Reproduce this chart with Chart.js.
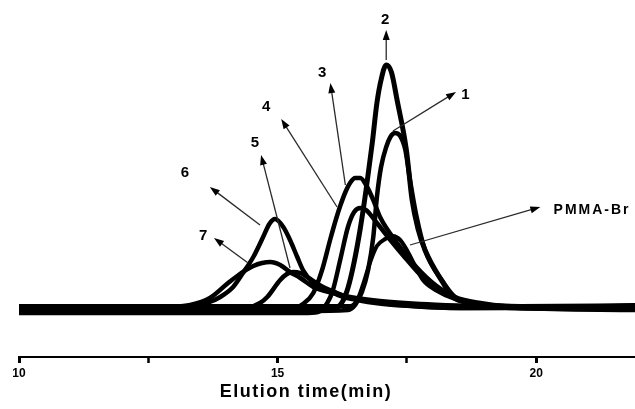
<!DOCTYPE html>
<html>
<head>
<meta charset="utf-8">
<script src="https://cdn.jsdelivr.net/npm/chart.js@4.4.0/dist/chart.umd.min.js"></script>
<style>
    html, body { margin: 0; padding: 0; background: #fff; }
    #wrap { width: 635px; height: 409px; position: relative; }
</style>
</head>
<body>
<div id="wrap"><canvas id="gpcChart"></canvas></div>
<script>
// elution time (min) and detector response
const curve1T = [10, 15.5, 16.36, 16.50, 16.63, 16.75, 16.85, 16.92, 17.00, 17.10, 17.18, 17.27, 17.37, 17.47, 17.56, 17.68, 17.85, 18.20, 18.43, 18.82, 19.50, 21.91];
const curve1Y = [-2, -2, -1, 4, 17, 39, 72, 112, 142, 162, 172, 176, 173, 159, 129, 94, 59, 27, 12, 5, 1, 0];

const curve2T = [10, 15.4, 16.11, 16.25, 16.36, 16.48, 16.60, 16.71, 16.83, 16.92, 17.00, 17.10, 17.20, 17.31, 17.49, 17.60, 17.72, 17.85, 18.20, 18.39, 18.72, 19.30, 20.46, 21.91];
const curve2Y = [1, 1, 1, 7, 21, 47, 81, 119, 166, 206, 229, 244, 237, 209, 159, 109, 79, 59, 26, 12, 6, 3, 2, 3];

const curve3T = [10, 15.0, 15.34, 15.49, 15.69, 15.86, 16.02, 16.13, 16.21, 16.32, 16.40, 16.50, 16.60, 16.71, 16.85, 16.98, 17.31, 17.70, 18.05, 18.43, 18.92, 19.69, 21.91];
const curve3Y = [0, 0, 1, 5, 16, 39, 70, 90, 103, 118, 126, 131, 131, 124, 109, 92, 66, 41, 24, 12, 6, 2, 2];

const curve4T = [10, 15.5, 15.78, 15.96, 16.07, 16.21, 16.36, 16.48, 16.60, 16.71, 16.92, 17.18, 17.47, 17.76, 18.05, 18.43, 18.92, 19.69, 21.91];
const curve4Y = [-4, -4, -3, 6, 19, 49, 82, 97, 101, 99, 86, 69, 51, 34, 21, 11, 5, 1, -1];

const curve5T = [10, 14.2, 14.37, 14.66, 14.80, 15.05, 15.18, 15.30, 15.44, 15.57, 15.88, 16.15, 16.40, 16.89, 17.56, 18.53, 21.91];
const curve5Y = [-1, -1, 0, 6, 12, 29, 35, 37, 36, 32, 22, 16, 11, 6, 3, 1, 1];

const curve6T = [10, 12.5, 12.92, 13.40, 13.64, 13.89, 14.14, 14.33, 14.53, 14.72, 14.84, 14.95, 15.11, 15.24, 15.38, 15.49, 15.69, 15.96, 16.27, 16.60, 17.37, 18.53, 21.91];
const curve6Y = [1, 1, 1, 3, 6, 12, 22, 36, 52, 72, 85, 90, 82, 69, 52, 39, 26, 19, 12, 9, 4, 1, 3];

const curve7T = [10, 12.4, 12.73, 13.31, 13.69, 14.02, 14.27, 14.53, 14.70, 14.86, 15.05, 15.24, 15.44, 15.69, 16.07, 16.40, 16.98, 17.76, 18.72, 19.88, 21.91];
const curve7Y = [-3, -3, 1, 4, 11, 25, 35, 43, 46, 47, 44, 37, 31, 22, 16, 12, 8, 5, 3, 1, 0];

const pmmaT = [10, 16.0, 16.40, 16.54, 16.65, 16.79, 16.92, 17.08, 17.23, 17.37, 17.52, 17.66, 17.81, 18.05, 18.43, 18.92, 19.69, 21.91];
const pmmaY = [3, 3, 3, 9, 24, 47, 63, 70, 73, 69, 57, 43, 29, 19, 10, 5, 3, 4];

const xTicks = [10, 15, 20];
const xTitle = "Elution time(min)";

// sample labels: text, label position, arrow tail (on trace), arrow head
const labelText = ["1", "2", "3", "4", "5", "6", "7", "PMMA-Br"];
const labelPos = [[18.63, 214], [17.08, 289], [15.86, 236], [14.78, 202], [14.56, 166], [13.21, 136], [13.56, 73], [21.08, 99]];
const arrowFrom = [[17.23, 178], [17.10, 249], [16.31, 124], [16.15, 102], [15.24, 41], [14.66, 84], [14.43, 46], [17.56, 64]];
const arrowTo = [[18.45, 217], [17.10, 279], [16.02, 226], [15.07, 190], [14.68, 154], [13.69, 122], [13.77, 71], [20.08, 102]];

function toPoints(ts, ys) {
    return ts.map((t, i) => ({ x: t, y: ys[i] }));
}

const traces = [
    [pmmaT, pmmaY, 4], [curve1T, curve1Y, 4.5], [curve2T, curve2Y, 5], [curve3T, curve3Y, 4.5],
    [curve4T, curve4Y, 4.5], [curve5T, curve5Y, 4.5], [curve6T, curve6Y, 4.5], [curve7T, curve7Y, 4.5]
];

const datasets = traces.map(tr => ({
    data: toPoints(tr[0], tr[1]),
    borderColor: "#000",
    borderWidth: tr[2],
    pointRadius: 0,
    fill: false,
    cubicInterpolationMode: "monotone"
}));

// Arrows, labels and axis title
const annotate = {
    id: "annotate",
    afterDatasetsDraw(chart) {
        const ctx = chart.ctx;
        const xs = chart.scales.x;
        const ys = chart.scales.y;
        ctx.save();
        ctx.strokeStyle = "#2a2a2a";
        ctx.fillStyle = "#000";
        ctx.lineWidth = 1.3;
        for (let i = 0; i < arrowFrom.length; i++) {
            const x1 = xs.getPixelForValue(arrowFrom[i][0]), y1 = ys.getPixelForValue(arrowFrom[i][1]);
            const x2 = xs.getPixelForValue(arrowTo[i][0]), y2 = ys.getPixelForValue(arrowTo[i][1]);
            const a = Math.atan2(y2 - y1, x2 - x1);
            ctx.beginPath();
            ctx.moveTo(x1, y1);
            ctx.lineTo(x2 - 6 * Math.cos(a), y2 - 6 * Math.sin(a));
            ctx.stroke();
            ctx.beginPath();
            ctx.moveTo(x2, y2);
            ctx.lineTo(x2 - 10 * Math.cos(a) + 3.5 * Math.sin(a), y2 - 10 * Math.sin(a) - 3.5 * Math.cos(a));
            ctx.lineTo(x2 - 10 * Math.cos(a) - 3.5 * Math.sin(a), y2 - 10 * Math.sin(a) + 3.5 * Math.cos(a));
            ctx.closePath();
            ctx.fill();
        }
        ctx.textAlign = "center";
        ctx.textBaseline = "middle";
        for (let i = 0; i < labelText.length; i++) {
            const long = labelText[i].length > 1;
            ctx.font = (long ? "bold 14px" : "bold 15px") + " 'Liberation Sans', Arial, sans-serif";
            ctx.letterSpacing = long ? "2px" : "0px";
            ctx.fillText(labelText[i], xs.getPixelForValue(labelPos[i][0]), ys.getPixelForValue(labelPos[i][1]));
        }
        ctx.font = "bold 18px 'Liberation Sans', Arial, sans-serif";
        ctx.letterSpacing = "1.5px";
        ctx.fillText(xTitle, xs.getPixelForValue(15.55), xs.top + 35);
        ctx.restore();
    }
};

new Chart("gpcChart", {
    type: "line",
    data: { datasets: datasets },
    options: {
        responsive: true,
        maintainAspectRatio: false,
        animation: false,
        layout: { padding: { left: 19, right: 0, top: 0, bottom: 0 } },
        plugins: {
            legend: { display: false },
            tooltip: { enabled: false }
        },
        scales: {
            x: {
                type: "linear",
                min: 10,
                max: 21.91,
                afterFit: s => { s.height = 52; },
                afterBuildTicks: s => {
                    s.ticks = s.ticks.filter(t => Math.abs(t.value / 2.5 - Math.round(t.value / 2.5)) < 1e-6);
                },
                border: { display: true, color: "#000", width: 2 },
                grid: {
                    drawOnChartArea: false,
                    drawTicks: true,
                    tickLength: 6,
                    tickColor: "#000",
                    tickWidth: c => (xTicks.includes(c.tick && c.tick.value) ? 3 : 2.5)
                },
                ticks: {
                    stepSize: 2.5,
                    autoSkip: false,
                    maxRotation: 0,
                    padding: 3,
                    color: "#000",
                    font: { family: "'Liberation Sans', Arial, sans-serif", size: 12, weight: "bold" },
                    callback: v => (xTicks.includes(v) ? String(v) : "")
                }
            },
            y: {
                display: false,
                min: -48,
                max: 309
            }
        }
    },
    plugins: [annotate]
});
</script>
</body>
</html>
